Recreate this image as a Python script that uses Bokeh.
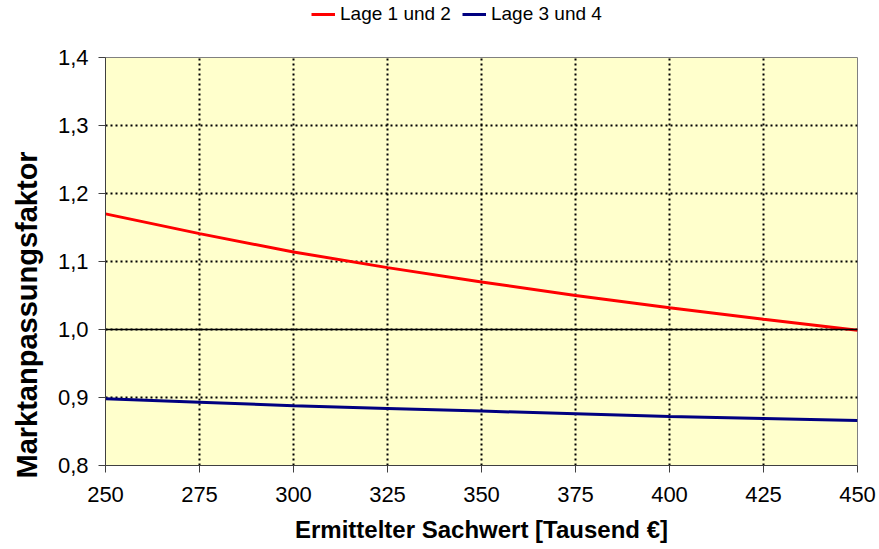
from bokeh.plotting import figure
from bokeh.models import FixedTicker, Legend, LegendItem, Span, Range1d, Title
from bokeh.layouts import column
from bokeh.embed import file_html
from bokeh.resources import INLINE

sachwert = [250, 275, 300, 325, 350, 375, 400, 425, 450]
lage_1_2 = [1.170, 1.141, 1.114, 1.091, 1.070, 1.050, 1.032, 1.015, 0.999]
lage_3_4 = [0.898, 0.893, 0.888, 0.884, 0.880, 0.876, 0.872, 0.869, 0.866]
serien = ["Lage 1 und 2", "Lage 3 und 4"]
x_ticks = [250, 275, 300, 325, 350, 375, 400, 425, 450]
y_ticks = [0.8, 0.9, 1.0, 1.1, 1.2, 1.3, 1.4]
y_labels = ["0,8", "0,9", "1,0", "1,1", "1,2", "1,3", "1,4"]

FONT = "Liberation Sans"
RED = "#FF0000"
BLUE = "#000080"
LEG_H = 30

# ---- legend strip above the chart ----
leg = figure(width=879, height=LEG_H, output_backend="svg", toolbar_location=None,
             x_axis_type=None, y_axis_type=None,
             x_range=Range1d(250, 450), y_range=Range1d(0.8, 1.4),
             min_border=0)
leg.outline_line_color = None
leg.background_fill_color = "white"
leg.border_fill_color = "white"
leg.xgrid.visible = False
leg.ygrid.visible = False
lr1 = leg.line(sachwert, lage_1_2, line_color=RED, line_width=3, visible=False)
lr2 = leg.line(sachwert, lage_3_4, line_color=BLUE, line_width=3, visible=False)
legend = Legend(items=[LegendItem(label=serien[0], renderers=[lr1]),
                       LegendItem(label=serien[1], renderers=[lr2])],
                orientation="horizontal", location=(206, 5),
                label_text_font=FONT, label_text_font_size="19px", label_text_color="black",
                glyph_width=24, glyph_height=16, label_standoff=5, spacing=11,
                padding=0, margin=0, border_line_color=None, background_fill_alpha=0)
leg.add_layout(legend)

# ---- main chart ----
p = figure(width=879, height=549 - LEG_H, output_backend="svg", toolbar_location=None,
           x_range=Range1d(250, 450), y_range=Range1d(0.8, 1.4),
           min_border_left=105, min_border_right=22, min_border_top=57 - LEG_H,
           min_border_bottom=84)

p.background_fill_color = "#FFFFCC"
p.border_fill_color = "white"
p.outline_line_color = "#808080"
p.outline_line_width = 1

for g in (p.xgrid, p.ygrid):
    g.grid_line_color = "black"
    g.grid_line_dash = "2 3"
    g.grid_line_width = 2
p.xgrid.ticker = FixedTicker(ticks=x_ticks)
p.ygrid.ticker = FixedTicker(ticks=y_ticks)

p.add_layout(Span(location=1.0, dimension="width", line_color="black", line_width=1.3))

p.line(sachwert, lage_1_2, line_color=RED, line_width=3)
p.line(sachwert, lage_3_4, line_color=BLUE, line_width=3)

p.xaxis.ticker = FixedTicker(ticks=x_ticks)
p.yaxis.ticker = FixedTicker(ticks=y_ticks)
p.yaxis.major_label_overrides = {t: l for t, l in zip(y_ticks, y_labels)}
for ax in (p.xaxis[0], p.yaxis[0]):
    ax.axis_line_color = "#404040"
    ax.major_tick_line_color = "#404040"
    ax.major_tick_out = 7
    ax.major_tick_in = 0
    ax.minor_tick_line_color = None
    ax.major_label_text_font = FONT
    ax.major_label_text_font_size = "22px"
    ax.major_label_text_color = "black"
    ax.axis_label_text_font = FONT
    ax.axis_label_text_font_style = "bold"
    ax.axis_label_text_color = "black"
p.xaxis.axis_label = "Ermittelter Sachwert [Tausend €]"
p.xaxis.axis_label_text_font_size = "24px"
p.xaxis.major_label_standoff = 14
p.xaxis.axis_label_standoff = 11
p.yaxis.major_label_standoff = 10

ytitle = Title(text="Marktanpassungsfaktor", align="left", offset=-13,
               vertical_align="top", standoff=19,
               text_font=FONT, text_font_size="29px", text_font_style="bold",
               text_color="black")
p.add_layout(ytitle, "left")

open("out.html", "w").write(file_html(column(leg, p, spacing=0), INLINE))
